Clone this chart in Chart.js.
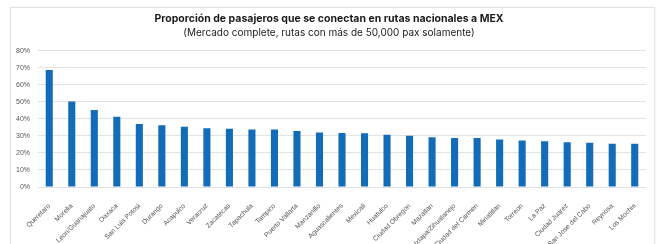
<!DOCTYPE html>
<html>
<head>
<meta charset="utf-8">
<script src="https://cdn.jsdelivr.net/npm/chart.js@4/dist/chart.umd.min.js"></script>
<style>
  html, body { margin: 0; padding: 0; background: #fff; }
  #frame { position: absolute; left: 10px; top: 7px; width: 643px; height: 250px;
           border: 1px solid #e3e3e3; border-bottom: none; box-shadow: 0 0 2px #eee; }
  #wrap { position: absolute; left: 0; top: 0; width: 657px; height: 244px; }
</style>
</head>
<body>
<div id="frame"></div>
<div id="wrap"><canvas id="chart" width="657" height="244"></canvas></div>
<script>
// Routes to MEX, share of connecting passengers
const airports = ['Queretaro', 'Morelia', 'Leon/Guanajuato', 'Oaxaca', 'San Luis Potosi', 'Durango',
  'Acapulco', 'Veracruz', 'Zacatecas', 'Tapachula', 'Tampico', 'Puerto Vallarta', 'Manzanillo',
  'Aguascalientes', 'Mexicali', 'Huatulco', 'Ciudad Obregon', 'Mazatlan', 'Ixtapa/Zihuatanejo',
  'Ciudad del Carmen', 'Minatitlan', 'Torreon', 'La Paz', 'Ciudad Juarez', 'San Jose del Cabo',
  'Reynosa', 'Los Mochis'];
const shares = [68.6, 50.2, 45.1, 41.2, 37.0, 36.2, 35.3, 34.5, 34.1, 33.7, 33.7, 32.9, 31.9,
  31.7, 31.5, 30.6, 30.0, 29.2, 28.8, 28.8, 27.8, 27.2, 26.8, 26.2, 25.9, 25.3, 25.3];
const yTicks = [0, 10, 20, 30, 40, 50, 60, 70, 80];

const ctx = document.getElementById('chart').getContext('2d');
new Chart(ctx, {
  type: 'bar',
  data: {
    labels: airports,
    datasets: [{
      data: shares,
      backgroundColor: '#136cb8',
      barPercentage: 0.9,
      categoryPercentage: 0.35
    }]
  },
  options: {
    responsive: false,
    animation: false,
    layout: { padding: { left: 12, right: 11, top: 8, bottom: 0 } },
    plugins: {
      legend: { display: false },
      tooltip: { enabled: false },
      title: {
        display: true,
        text: 'Proporción de pasajeros que se conectan en rutas nacionales a MEX',
        color: '#1a1a1a',
        font: { family: 'Inter', size: 10.5, weight: 'bold' },
        padding: { top: 5, bottom: 1 }
      },
      subtitle: {
        display: true,
        text: '(Mercado complete, rutas con más de 50,000 pax solamente)',
        color: '#222',
        font: { family: 'Inter', size: 10 },
        padding: { top: 0, bottom: 12 }
      }
    },
    scales: {
      x: {
        grid: { display: false },
        border: { display: false },
        ticks: {
          autoSkip: false,
          maxRotation: 45,
          minRotation: 45,
          padding: 7,
          color: '#555',
          font: { family: 'Liberation Sans', size: 6.8 }
        },
        afterFit: (scale) => { scale.height = 57; }
      },
      y: {
        min: 0,
        max: 80,
        afterBuildTicks: (scale) => { scale.ticks = yTicks.map(v => ({ value: v })); },
        grid: { color: '#e2e2e2', lineWidth: 1, drawTicks: false },
        border: { display: false },
        ticks: {
          padding: 8,
          color: '#555',
          font: { family: 'Liberation Sans', size: 7 },
          callback: (v) => v + '%'
        },
        afterFit: (scale) => { scale.width = 26; }
      }
    }
  }
});
</script>
</body>
</html>
